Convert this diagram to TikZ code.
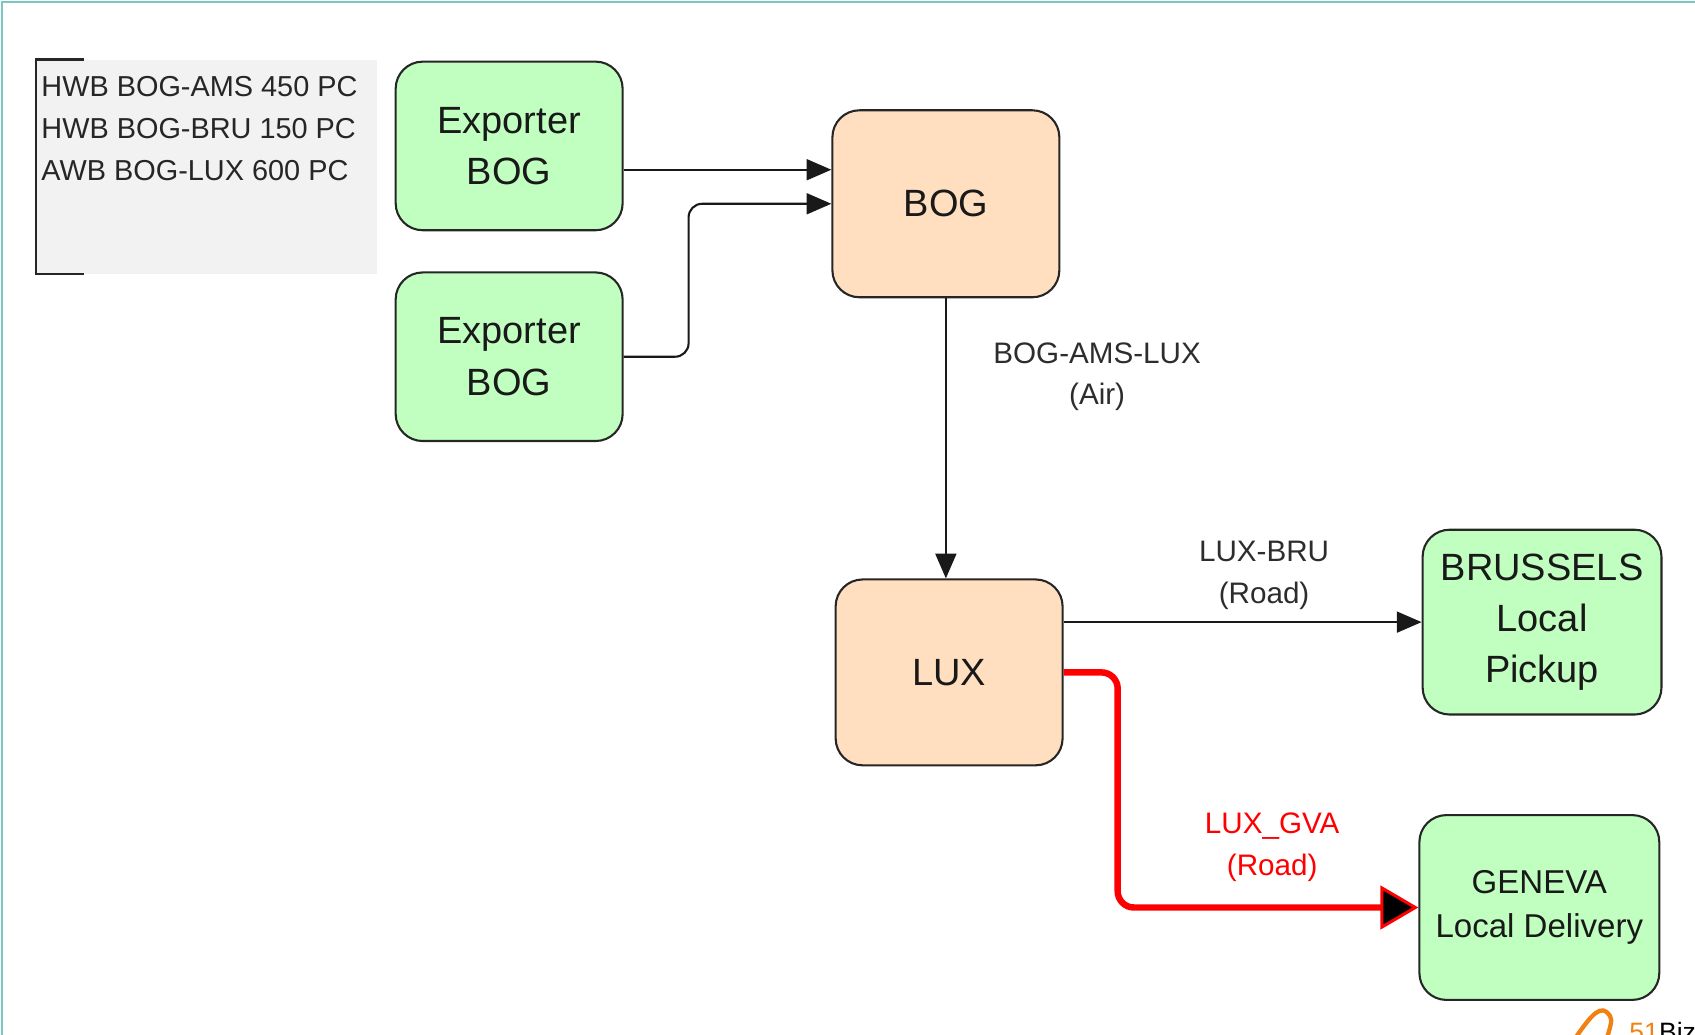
\documentclass[tikz,border=0pt]{standalone}
\usepackage{fontspec}
\setmainfont{Liberation Sans}
\usetikzlibrary{arrows.meta}
\definecolor{boxgreen}{RGB}{192,255,192}
\definecolor{boxpeach}{RGB}{255,223,191}
\definecolor{notegray}{RGB}{242,242,242}
\definecolor{frameteal}{RGB}{122,200,194}
\definecolor{labgray}{RGB}{45,45,45}
\definecolor{routered}{RGB}{255,0,0}
\definecolor{logoorange}{RGB}{240,130,20}
\begin{document}
\begin{tikzpicture}[x=0.02cm, y=-0.02cm,
    box/.style={draw=black!85, line width=1.1pt, rounded corners=0.5cm, align=center, text=black!90,
                inner sep=0pt, font=\fontsize{20pt}{27pt}\selectfont},
    party/.style={box, fill=boxgreen},
    hub/.style={box, fill=boxpeach},
    link/.style={draw=black!90, line width=1.1pt, -{Triangle[length=13pt,width=11pt]}},
    lab/.style={text=labgray, align=center, inner sep=0pt, font=\fontsize{15.6pt}{22pt}\selectfont}]
  \useasboundingbox (0,0) rectangle (1568,957);
  % frame of the page
  \draw [frameteal, line width=0.04cm] (1.5,957) -- (1.5,1.5) -- (1568,1.5);
  % shipment note
  \node (note) [fill=notegray, minimum width=6.3cm, minimum height=3.96cm, anchor=north west, inner sep=0pt] at (33,55) {};
  \draw [line width=1.1pt, black!85] ([xshift=0.9cm]note.north west) -- (note.north west) -- (note.south west) -- ([xshift=0.9cm]note.south west);
  \node (notetext) [anchor=west, align=left, inner sep=0pt, text=black!85, font=\fontsize{15.2pt}{22.1pt}\selectfont] at (38,119)
    {HWB BOG-AMS 450 PC\\HWB BOG-BRU 150 PC\\AWB BOG-LUX 600 PC};
  % stations
  \node (ex1) [party, minimum width=4.2cm, minimum height=3.12cm] at (471,135) {Exporter\\BOG};
  \node (ex2) [party, minimum width=4.2cm, minimum height=3.12cm] at (471,330) {Exporter\\BOG};
  \node (bog) [hub, minimum width=4.2cm, minimum height=3.46cm] at (875,188.5) {BOG};
  \node (lux) [hub, minimum width=4.2cm, minimum height=3.44cm] at (878,622) {LUX};
  \node (bru) [party, minimum width=4.42cm, minimum height=3.42cm] at (1426.5,575.5) {BRUSSELS\\Local\\Pickup};
  \node (gva) [party, minimum width=4.44cm, minimum height=3.42cm, font=\fontsize{17.4pt}{23.5pt}\selectfont] at (1424,839.5) {GENEVA\\Local Delivery};
  % feeder legs
  \coordinate (in1) at ([yshift=0.63cm]bog.west);
  \coordinate (bend) at (637,188.5);
  \draw [link] (ex1.east |- in1) -- (in1);
  \draw [link, rounded corners=0.25cm] (ex2.east) -| (bend) -- (bog.west);
  % main legs
  \draw [link] (bog.south) -- (bog.south |- lux.north)
    node [lab, pos=0.28, right=0.86cm] {BOG-AMS-LUX\\(Air)};
  \draw [link] (lux.east |- bru.west) -- (bru.west)
    node [lab, pos=0.56, above=0.22cm] {LUX-BRU\\(Road)};
  \draw [routered, line width=3.4pt, rounded corners=0.3cm,
         -{Triangle[length=20pt,width=23pt,fill=black,line width=1.6pt]}]
    (lux.east) -- ++(50,0) |- (gva.west)
    node [lab, text=routered, pos=0.757, above=0.42cm] {LUX\_GVA\\(Road)};
  % logo, cut by the page edge
  \draw [logoorange, line width=0.08cm] (1456,962) .. controls (1468,945) and (1478,930) .. (1486,936) .. controls (1492,942) .. (1486,962);
  \node (logo) [anchor=north west, inner sep=0pt, font=\fontsize{14pt}{16pt}\selectfont] at (1507,945) {\textcolor{logoorange}{51}Biz};
\end{tikzpicture}
\end{document}
